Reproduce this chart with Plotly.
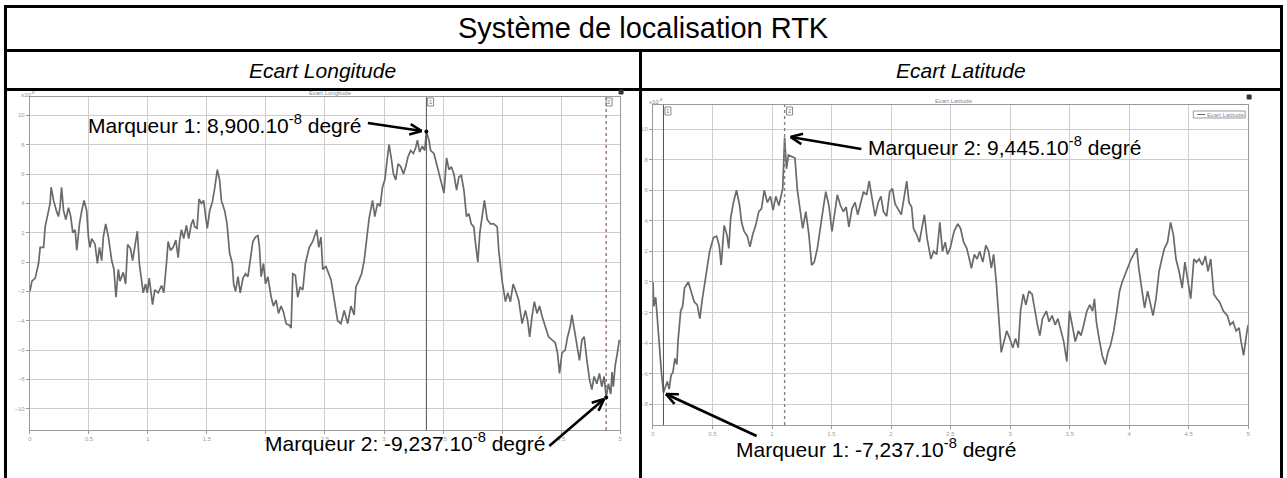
import numpy as np
import plotly.graph_objects as go

W, H = 1287, 478

# ---------------- data (units: 1e-8 degree) ----------------
lon_x = [0.000, 0.017, 0.045, 0.073, 0.087, 0.116, 0.129, 0.149, 0.171, 0.180, 0.200, 0.228, 0.242, 0.256, 0.268,
         0.285, 0.304, 0.327, 0.346, 0.363, 0.383, 0.397, 0.420, 0.439, 0.459, 0.481, 0.496, 0.509, 0.524, 0.552,
         0.572, 0.589, 0.608, 0.622, 0.642, 0.665, 0.693, 0.712, 0.729, 0.749, 0.763, 0.791, 0.811, 0.828, 0.853,
         0.870, 0.889, 0.910, 0.927, 0.946, 0.960, 0.980, 0.994, 1.011, 1.039, 1.058, 1.087, 1.115, 1.134, 1.157,
         1.171, 1.191, 1.214, 1.236, 1.256, 1.269, 1.284, 1.303, 1.326, 1.345, 1.368, 1.383, 1.396, 1.416, 1.433,
         1.453, 1.472, 1.489, 1.503, 1.523, 1.546, 1.565, 1.588, 1.607, 1.622, 1.650, 1.670, 1.692, 1.715, 1.726,
         1.742, 1.763, 1.782, 1.805, 1.827, 1.847, 1.867, 1.889, 1.911, 1.932, 1.945, 1.959, 1.979, 1.996, 2.016,
         2.044, 2.063, 2.086, 2.106, 2.128, 2.148, 2.171, 2.198, 2.213, 2.227, 2.249, 2.269, 2.289, 2.312, 2.334,
         2.367, 2.396, 2.430, 2.447, 2.466, 2.481, 2.508, 2.551, 2.579, 2.607, 2.635, 2.663, 2.692, 2.720, 2.747,
         2.762, 2.790, 2.810, 2.832, 2.855, 2.874, 2.903, 2.922, 2.945, 2.967, 2.987, 3.007, 3.030, 3.043, 3.063,
         3.080, 3.100, 3.119, 3.142, 3.165, 3.184, 3.204, 3.226, 3.249, 3.269, 3.283, 3.302, 3.325, 3.345, 3.359,
         3.381, 3.395, 3.423, 3.452, 3.480, 3.508, 3.530, 3.550, 3.570, 3.592, 3.615, 3.634, 3.655, 3.677, 3.699,
         3.719, 3.739, 3.761, 3.775, 3.795, 3.812, 3.832, 3.851, 3.874, 3.902, 3.930, 3.959, 3.972, 4.001, 4.029,
         4.048, 4.071, 4.094, 4.113, 4.141, 4.170, 4.198, 4.217, 4.234, 4.254, 4.274, 4.296, 4.318, 4.339, 4.367,
         4.394, 4.423, 4.451, 4.470, 4.487, 4.508, 4.535, 4.555, 4.578, 4.592, 4.620, 4.639, 4.656, 4.677, 4.696,
         4.719, 4.741, 4.761, 4.780, 4.803, 4.825, 4.845, 4.865, 4.882, 4.901, 4.921, 4.932, 4.943, 4.958, 4.977,
         4.994]
lon_y = [-2.0, -1.3, -1.1, -0.1, 1.0, 1.0, 2.4, 3.3, 4.0, 5.1, 4.2, 3.4, 3.1, 3.8, 5.1,
         3.5, 2.9, 3.7, 3.1, 2.0, 2.2, 0.8, 2.6, 3.5, 4.2, 3.5, 1.7, 1.0, 1.6, 1.2,
         -0.1, 1.0, 0.1, 1.7, 2.6, 1.7, 0.1, -0.5, -2.4, -0.5, -1.3, -0.7, -1.5, 1.2, 0.9,
         0.1, 1.0, 2.1, -0.1, -1.2, -2.1, -1.5, -2.1, -1.1, -2.9, -1.9, -2.1, -1.6, -2.1, -0.1,
         1.4, 0.8, 1.0, 1.5, 0.3, 1.5, 2.2, 1.6, 2.5, 1.6, 2.6, 2.9, 2.4, 2.3, 4.3,
         4.0, 4.2, 3.1, 2.3, 3.5, 4.1, 5.0, 6.3, 5.6, 4.2, 3.5, 2.6, 0.6, -0.1, -1.5,
         -2.0, -1.0, -2.1, -1.1, -0.8, -1.0, 0.1, 1.4, 1.7, 1.8, 1.0, -1.0, -0.1, -1.5, -1.0,
         -2.4, -3.0, -2.6, -3.5, -3.0, -3.4, -4.2, -4.3, -4.5, -0.8, -0.9, -2.4, -1.7, -1.9, -0.1,
         1.0, 1.4, 2.2, 1.0, 1.7, -0.5, -0.3, -1.2, -2.6, -4.0, -4.2, -3.3, -4.2, -3.0, -3.6,
         -1.7, -1.2, -0.8, 0.1, 1.8, 3.0, 4.2, 3.1, 4.0, 3.8, 5.1, 5.6, 7.2, 8.0, 7.0,
         6.0, 5.6, 6.7, 6.5, 6.0, 6.5, 7.2, 7.6, 7.4, 7.8, 8.3, 7.5, 7.9, 7.6, 8.9,
         8.3, 7.6, 7.4, 6.5, 5.5, 4.7, 7.1, 6.3, 6.5, 6.0, 4.9, 5.8, 5.9, 4.9, 3.1,
         3.3, 2.6, 2.4, 1.3, 0.0, 2.0, 3.1, 4.2, 2.9, 2.6, 2.6, 2.4, 0.8, -1.3, -2.7,
         -2.1, -2.7, -1.5, -1.9, -2.6, -4.2, -3.3, -4.0, -5.1, -3.7, -2.7, -3.5, -3.0, -3.7, -4.5,
         -5.1, -5.3, -5.5, -6.2, -7.6, -6.2, -6.0, -5.1, -4.4, -3.6, -4.9, -5.8, -6.7, -5.3, -5.1,
         -6.7, -8.0, -8.7, -7.8, -8.3, -7.6, -8.5, -7.8, -9.237, -8.3, -9.0, -7.5, -8.5, -7.1, -6.2,
         -5.3]

lat_x = [0.000, 0.007, 0.023, 0.039, 0.055, 0.071, 0.088, 0.104, 0.120, 0.136, 0.152, 0.168, 0.184, 0.201, 0.210,
         0.233, 0.249, 0.265, 0.297, 0.320, 0.346, 0.372, 0.394, 0.411, 0.443, 0.476, 0.508, 0.534, 0.556, 0.573,
         0.598, 0.621, 0.637, 0.653, 0.676, 0.702, 0.728, 0.744, 0.766, 0.792, 0.815, 0.838, 0.863, 0.889, 0.912,
         0.935, 0.961, 0.987, 1.009, 1.032, 1.058, 1.074, 1.090, 1.106, 1.122, 1.138, 1.171, 1.193, 1.213, 1.235,
         1.258, 1.284, 1.310, 1.333, 1.355, 1.381, 1.407, 1.430, 1.452, 1.478, 1.504, 1.527, 1.549, 1.575, 1.600,
         1.623, 1.646, 1.672, 1.698, 1.720, 1.743, 1.769, 1.795, 1.817, 1.840, 1.866, 1.892, 1.915, 1.937, 1.963,
         1.989, 2.012, 2.034, 2.060, 2.086, 2.109, 2.132, 2.151, 2.173, 2.189, 2.215, 2.238, 2.260, 2.280, 2.302,
         2.335, 2.358, 2.384, 2.410, 2.432, 2.455, 2.474, 2.497, 2.529, 2.561, 2.584, 2.610, 2.636, 2.658, 2.675,
         2.700, 2.723, 2.745, 2.771, 2.797, 2.820, 2.843, 2.862, 2.884, 2.907, 2.926, 2.949, 2.972, 2.998, 3.023,
         3.046, 3.069, 3.088, 3.111, 3.133, 3.159, 3.185, 3.208, 3.230, 3.250, 3.272, 3.305, 3.328, 3.353, 3.379,
         3.402, 3.425, 3.451, 3.477, 3.499, 3.522, 3.548, 3.574, 3.596, 3.619, 3.645, 3.670, 3.693, 3.709, 3.725,
         3.748, 3.774, 3.800, 3.822, 3.845, 3.871, 3.897, 3.920, 3.942, 3.968, 3.993, 4.017, 4.039, 4.065, 4.081,
         4.104, 4.130, 4.156, 4.178, 4.201, 4.226, 4.252, 4.275, 4.297, 4.323, 4.349, 4.372, 4.394, 4.420, 4.446,
         4.469, 4.492, 4.518, 4.544, 4.566, 4.589, 4.615, 4.641, 4.663, 4.686, 4.712, 4.738, 4.760, 4.792, 4.826,
         4.848, 4.874, 4.899, 4.924, 4.941, 4.962, 4.985, 5.000]
lat_y = [0.0, -1.6, -1.0, -2.8, -4.6, -5.9, -7.237, -6.9, -6.5, -7.0, -6.1, -5.9, -5.0, -5.4, -3.9,
         -1.9, -1.6, -0.4, 0.0, -0.6, -1.3, -1.5, -2.4, -1.3, 0.2, 2.0, 2.9, 3.0, 2.4, 1.1,
         3.7, 3.1, 2.2, 4.2, 5.2, 6.0, 5.0, 3.9, 3.3, 3.0, 2.3, 3.1, 3.7, 4.6, 4.8,
         6.0, 5.2, 5.6, 4.7, 5.6, 5.0, 5.6, 6.1, 9.445, 7.4, 8.3, 8.2, 8.1, 6.0, 4.8,
         3.5, 4.6, 3.1, 1.1, 1.3, 2.2, 3.7, 4.8, 5.9, 5.0, 3.3, 4.6, 5.7, 5.0, 4.6,
         4.9, 3.6, 4.8, 5.2, 4.4, 5.2, 5.9, 5.7, 6.6, 5.5, 4.3, 5.2, 5.6, 4.6, 4.3,
         5.9, 6.1, 5.1, 4.7, 4.4, 5.5, 6.6, 5.2, 4.9, 3.5, 3.1, 2.6, 3.7, 4.4, 2.9,
         1.5, 2.0, 1.8, 3.9, 2.0, 2.6, 1.8, 2.2, 3.3, 3.8, 3.5, 2.6, 2.2, 1.5, 0.9,
         1.8, 1.5, 2.0, 1.3, 2.4, 2.0, 0.9, 1.8, 0.0, -2.8, -4.6, -3.9, -3.2, -3.7, -4.3,
         -3.7, -4.3, -1.9, -0.8, -1.5, -0.6, -0.8, -1.9, -2.8, -3.5, -2.4, -1.9, -2.6, -2.2, -2.8,
         -2.4, -3.2, -3.9, -5.2, -1.9, -2.8, -3.9, -3.2, -3.5, -2.8, -1.9, -1.5, -1.9, -1.1, -2.6,
         -3.7, -4.8, -5.4, -4.6, -4.1, -3.2, -1.9, -0.6, 0.0, 0.5, 1.1, 1.5, 1.8, 2.2, 0.9,
         -0.2, -1.7, -0.6, -1.3, -2.2, -1.1, 0.7, 1.5, 2.2, 2.6, 3.9, 3.1, 1.5, 0.7, -0.4,
         1.3, 0.2, -1.1, 1.5, 1.3, 1.5, 1.1, 1.7, 0.7, 1.5, -0.8, -1.1, -1.3, -1.9, -2.2,
         -2.8, -2.6, -3.2, -3.0, -3.9, -4.8, -3.5, -2.8]

# markers: [marker 1, marker 2]
lon_markers_x = [3.359, 4.882]
lon_markers_y = [8.900, -9.237]
lat_markers_x = [0.088, 1.106]
lat_markers_y = [-7.237, 9.445]

x_ticks = [0, 0.5, 1, 1.5, 2, 2.5, 3, 3.5, 4, 4.5, 5]
x_tick_text = ["0", "0.5", "1", "1.5", "2", "2.5", "3", "3.5", "4", "4.5", "5"]
y_ticks = [-10, -8, -6, -4, -2, 0, 2, 4, 6, 8, 10]

lon_range = [-11.45, 11.25]
lat_range = [-9.35, 11.57]

# ---------------- helpers (pixel -> paper) ----------------
def fx(p):
    return p / W

def fy(p):
    return 1 - p / H

fig = go.Figure()

LINE = "#6a6a6a"
fig.add_trace(go.Scatter(x=lon_x, y=lon_y, mode="lines", line=dict(color=LINE, width=1.7),
                         xaxis="x", yaxis="y", showlegend=False, hoverinfo="skip"))
fig.add_trace(go.Scatter(x=lat_x, y=lat_y, mode="lines", line=dict(color=LINE, width=1.7),
                         xaxis="x2", yaxis="y2", showlegend=False, hoverinfo="skip"))

# marker vertical lines
fig.add_trace(go.Scatter(x=[lon_markers_x[0]] * 2, y=lon_range, mode="lines",
                         line=dict(color="#505050", width=1), xaxis="x", yaxis="y", showlegend=False))
fig.add_trace(go.Scatter(x=[lon_markers_x[1]] * 2, y=lon_range, mode="lines",
                         line=dict(color="#8a5a5a", width=1.2, dash="dot"), xaxis="x", yaxis="y", showlegend=False))
fig.add_trace(go.Scatter(x=[lat_markers_x[0]] * 2, y=lat_range, mode="lines",
                         line=dict(color="#505050", width=1), xaxis="x2", yaxis="y2", showlegend=False))
fig.add_trace(go.Scatter(x=[lat_markers_x[1]] * 2, y=lat_range, mode="lines",
                         line=dict(color="#808080", width=1.4, dash="dot"), xaxis="x2", yaxis="y2", showlegend=False))
fig.add_trace(go.Scatter(x=lon_markers_x, y=lon_markers_y, mode="markers",
                         marker=dict(color="black", size=4), xaxis="x", yaxis="y", showlegend=False))

GRID = "#d2cbc6"
TICKF = dict(family="Liberation Sans", size=6, color="#a0a0a0")
common_x = dict(range=[0, 5], tickvals=x_ticks, ticktext=x_tick_text, showgrid=True, gridcolor=GRID,
                gridwidth=1.4, zeroline=False, showline=True, linecolor="#9a9a9a", linewidth=1, mirror=True,
                ticks="outside", ticklen=3, tickcolor="#9a9a9a", tickfont=TICKF)
common_y = dict(tickvals=y_ticks, showgrid=True, gridcolor=GRID, gridwidth=1.4, zeroline=False,
                showline=True, linecolor="#9a9a9a", linewidth=1, mirror=True,
                ticks="outside", ticklen=3, tickcolor="#9a9a9a", tickfont=TICKF)

fig.update_layout(
    width=W, height=H, margin=dict(l=0, r=0, t=0, b=0),
    paper_bgcolor="white", plot_bgcolor="white",
    xaxis=dict(domain=[fx(28), fx(620)], anchor="y", **common_x),
    yaxis=dict(domain=[fy(430), fy(97)], range=lon_range, anchor="x", **common_y),
    xaxis2=dict(domain=[fx(653), fx(1250)], anchor="y2", **common_x),
    yaxis2=dict(domain=[fy(425), fy(105)], range=lat_range, anchor="x2", **common_y),
)

shapes = []
def hline(y, x0, x1, w=3, c="black"):
    shapes.append(dict(type="line", xref="paper", yref="paper", x0=fx(x0), x1=fx(x1), y0=fy(y), y1=fy(y),
                       line=dict(color=c, width=w), layer="above"))
def vline(x, y0, y1, w=3, c="black"):
    shapes.append(dict(type="line", xref="paper", yref="paper", x0=fx(x), x1=fx(x), y0=fy(y0), y1=fy(y1),
                       line=dict(color=c, width=w), layer="above"))

# table borders
hline(6.5, 2, 1285)
hline(50.5, 2, 1285)
hline(89.5, 2, 1285)
vline(3.5, 5, 478)
vline(1283.5, 5, 478)
vline(640.5, 50, 478)

# arrows with open V heads
def arrow(x0, y0, x1, y1, L=13, ang=24):
    shapes.append(dict(type="line", xref="paper", yref="paper", x0=fx(x0), y0=fy(y0), x1=fx(x1), y1=fy(y1),
                       line=dict(color="black", width=2.6), layer="above"))
    d = np.array([x1 - x0, y1 - y0], dtype=float)
    d /= np.hypot(*d)
    for s in (1, -1):
        a = np.radians(ang * s)
        r = np.array([d[0] * np.cos(a) - d[1] * np.sin(a), d[0] * np.sin(a) + d[1] * np.cos(a)])
        p = np.array([x1, y1]) - L * r
        shapes.append(dict(type="line", xref="paper", yref="paper", x0=fx(p[0]), y0=fy(p[1]),
                           x1=fx(x1), y1=fy(y1), line=dict(color="black", width=2.6), layer="above"))

arrow(367, 123, 421, 131)
arrow(549, 446, 604, 399)
arrow(862, 149, 791, 137)
arrow(757, 436, 666, 394)

# small chart decorations: marker flags, corner squares, legend box
def rect(x0, y0, x1, y1, c="#8a8a8a", fill="rgba(0,0,0,0)", w=1):
    shapes.append(dict(type="rect", xref="paper", yref="paper", x0=fx(x0), y0=fy(y0), x1=fx(x1), y1=fy(y1),
                       line=dict(color=c, width=w), fillcolor=fill, layer="above"))

rect(427, 98, 433, 106)
rect(606, 98, 612, 106)
rect(665, 107, 671, 115)
rect(787, 107, 793, 115)
rect(619, 90, 623, 94, c="#333", fill="#333")
rect(1249, 95, 1253, 99, c="#333", fill="#333")
rect(1195, 111, 1247, 118, c="#999")
shapes.append(dict(type="line", xref="paper", yref="paper", x0=fx(1199), x1=fx(1207), y0=fy(114.5), y1=fy(114.5),
                   line=dict(color="#666", width=1), layer="above"))

fig.update_layout(shapes=shapes)

ann = []
def text(x, y, t, size, xanchor="center", italic=False, color="black", yanchor="middle"):
    s = f"<i>{t}</i>" if italic else t
    ann.append(dict(x=fx(x), y=fy(y), xref="paper", yref="paper", text=s, showarrow=False,
                    xanchor=xanchor, yanchor=yanchor,
                    font=dict(family="Liberation Sans", size=size, color=color)))

text(643, 28, "Système de localisation RTK", 29)
text(321, 70, "Ecart Longitude", 21, italic=True)
text(962, 70, "Ecart Latitude", 21, italic=True)

text(84, 124, "Marqueur 1: 8,900.10<sup>-8</sup> degré", 21, xanchor="left")
text(262, 442, "Marqueur 2: -9,237.10<sup>-8</sup> degré", 21, xanchor="left")
text(867, 146, "Marqueur 2: 9,445.10<sup>-8</sup> degré", 21, xanchor="left")
text(734, 448, "Marqueur 1: -7,237.10<sup>-8</sup> degré", 21, xanchor="left")

# tiny screenshot texts
text(330, 93, "Ecart Longitude", 6, color="#888")
text(955, 101, "Ecart Latitude", 6, color="#888")
text(1228, 114.5, "Ecart Latitude", 6, color="#888")
text(26, 94, "x10<sup>-8</sup>", 6, color="#888")
text(656, 101, "x10<sup>-8</sup>", 6, color="#888")
text(430, 102, "1", 6, color="#777")
text(609, 102, "2", 6, color="#777")
text(668, 111, "1", 6, color="#777")
text(790, 111, "2", 6, color="#777")

fig.update_layout(annotations=ann)

fig.write_html("out.html", config={"displayModeBar": False},
               post_script="document.body.style.margin='0px';document.body.style.overflow='hidden';")
